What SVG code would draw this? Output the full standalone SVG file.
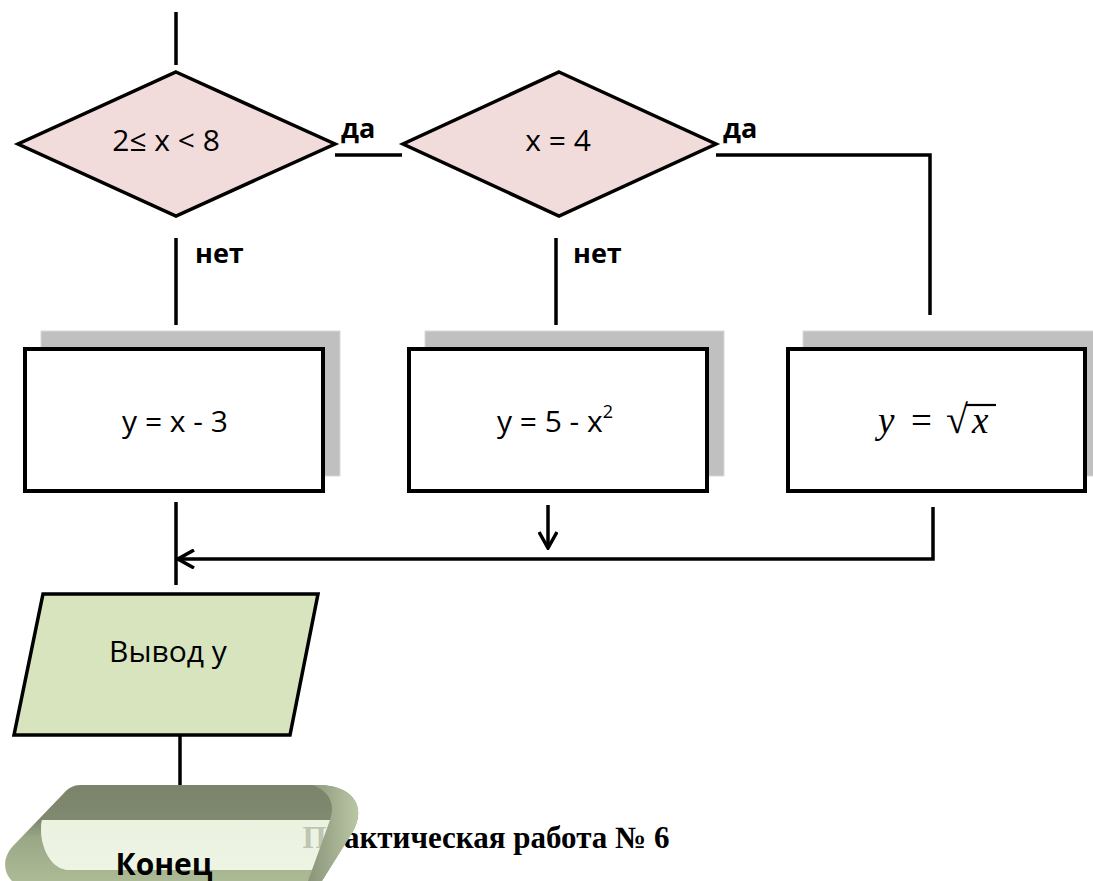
<svg xmlns="http://www.w3.org/2000/svg" width="1093" height="881" viewBox="0 0 1093 881">
<defs>
<style>
.ln{stroke:#000;stroke-width:3.5;fill:none}
.dia{fill:#f2dcdb;stroke:#000;stroke-width:3.5;stroke-linejoin:miter}
.box{fill:#fff;stroke:#000;stroke-width:4}
.shd{fill:#c0c0c0;stroke:#d9d9d9;stroke-width:1}
.t{font-family:"Open Sans","Noto Sans",sans-serif;font-size:30px;fill:#000}
.b{font-family:"Open Sans","Noto Sans",sans-serif;font-size:27px;font-weight:bold;fill:#000}
.m{font-family:"Liberation Serif","DejaVu Serif",serif;font-size:37px;fill:#000}
</style>
<marker id="ah" viewBox="0 0 20 20" refX="18" refY="10" markerWidth="20" markerHeight="20" markerUnits="userSpaceOnUse" orient="auto">
<path d="M2,1 L18,10 L2,19" fill="none" stroke="#000" stroke-width="3.5"/>
</marker>
<linearGradient id="gBase" x1="0" y1="0" x2="0" y2="1">
<stop offset="0" stop-color="#7b846a"/>
<stop offset="0.38" stop-color="#808a70"/>
<stop offset="0.55" stop-color="#9aa886"/>
<stop offset="1" stop-color="#acba96"/>
</linearGradient>
<linearGradient id="gCap" x1="0" y1="0" x2="1" y2="0">
<stop offset="0" stop-color="#8a947a"/>
<stop offset="1" stop-color="#bac7a4"/>
</linearGradient>
<linearGradient id="gFace" x1="0" y1="0" x2="0" y2="1">
<stop offset="0" stop-color="#e6efd9"/>
<stop offset="1" stop-color="#eaf2de"/>
</linearGradient>
</defs>
<rect width="1093" height="881" fill="#fff"/>

<g id="connectors">
<line class="ln" x1="176" y1="12" x2="176" y2="65"/>
<line class="ln" x1="335" y1="155" x2="402" y2="155"/>
<polyline class="ln" points="716,155 930,155 930,315"/>
<line class="ln" x1="176" y1="238" x2="176" y2="325"/>
<line class="ln" x1="556" y1="238" x2="556" y2="325"/>
<line class="ln" x1="176" y1="502" x2="176" y2="585"/>
<line class="ln" x1="548" y1="505" x2="548" y2="548" marker-end="url(#ah)"/>
<polyline class="ln" points="933,507 933,559 178,559" marker-end="url(#ah)"/>
<line class="ln" x1="180" y1="735" x2="180" y2="787"/>
<text class="b" x="341" y="138">да</text>
<text class="b" x="723" y="138">да</text>
<text class="b" x="195" y="263">нет</text>
<text class="b" x="573" y="263">нет</text>
</g>

<g id="cond1">
<polygon class="dia" points="176,72 335,144 176,216 18,144"/>
<text class="t" x="166" y="151" text-anchor="middle">2≤ x &lt; 8</text>
</g>
<g id="cond2">
<polygon class="dia" points="559,72 716,144 559,216 403,144"/>
<text class="t" x="558" y="151" text-anchor="middle">x = 4</text>
</g>

<g id="proc1">
<rect class="shd" x="41" y="331" width="299" height="145"/>
<rect class="box" x="25" y="349" width="298" height="142"/>
<text class="t" x="175" y="432" text-anchor="middle">y = x - 3</text>
</g>
<g id="proc2">
<rect class="shd" x="425" y="331" width="299" height="145"/>
<rect class="box" x="409" y="349" width="298" height="142"/>
<text class="t" x="555" y="432" text-anchor="middle">y = 5 - x<tspan font-size="18" dy="-14">2</tspan></text>
</g>
<g id="proc3">
<rect class="shd" x="803" y="331" width="299" height="145"/>
<rect class="box" x="788" y="349" width="297" height="142"/>
<text class="m" x="878" y="433"><tspan font-style="italic">y</tspan><tspan x="911">=</tspan><tspan x="946" font-size="40">√</tspan><tspan x="972" font-style="italic">x</tspan></text>
<line x1="966" y1="405" x2="996" y2="405" stroke="#000" stroke-width="2.2"/>
</g>

<g id="output">
<polygon points="43,594 318,594 290,735 14,735" fill="#d7e4bd" stroke="#000" stroke-width="3.5"/>
<text class="t" x="168" y="662" text-anchor="middle">Вывод у</text>
</g>

<text id="title" x="486" y="848" text-anchor="middle" font-family="'Liberation Serif','Times New Roman',serif" font-size="31" font-weight="bold" fill="#000">Практическая работа № 6</text>

<g id="end">
<path fill-rule="evenodd" fill="url(#gBase)" d="M80,785 L318,785 C352,785 368,806 352,833 L322,881 L12,881 C3,872 2,857 14,845 L64,793 C68,788 74,785 80,785 Z M42,820 L330,820 L315,870 L70,870 C48,870 38,840 42,820 Z"/>
<path fill="url(#gFace)" fill-opacity="0.82" d="M42,820 L330,820 L315,870 L70,870 C48,870 38,840 42,820 Z"/>
<path fill="url(#gCap)" d="M312,785 L318,785 C352,785 368,806 352,833 L322,881 L308,881 L330,820 C336,803 328,790 312,785 Z"/>
<text x="164" y="875" text-anchor="middle" font-family="'Open Sans','Noto Sans',sans-serif" font-size="30" font-weight="bold" fill="#000">Конец</text>
</g>
</svg>
